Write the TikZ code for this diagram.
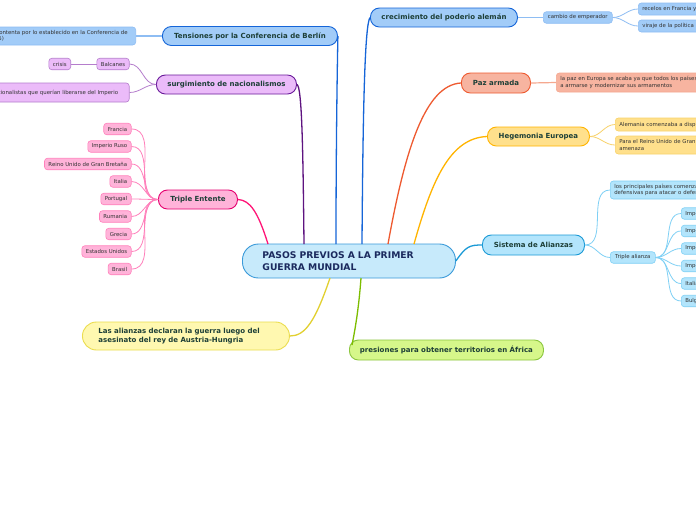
\documentclass[tikz,border=0pt]{standalone}
\usepackage{fontspec}
\setmainfont{DejaVu Sans}
\definecolor{maintext}{HTML}{1D3F37}
\definecolor{centext}{HTML}{1B2A5E}
\definecolor{subtext}{HTML}{333333}
\definecolor{cenfill}{HTML}{C7EAFB}
\definecolor{cenline}{HTML}{3A9AD9}
\definecolor{bluefill}{HTML}{A2CCF8}
\definecolor{blueline}{HTML}{1565D8}
\definecolor{bluesub}{HTML}{8EBDF3}
\definecolor{redfill}{HTML}{F7B4A0}
\definecolor{redline}{HTML}{EE5A30}
\definecolor{redsub}{HTML}{F5A88F}
\definecolor{yelfill}{HTML}{FFE08C}
\definecolor{yelline}{HTML}{FFB400}
\definecolor{yelsub}{HTML}{F8D26A}
\definecolor{cyanfill}{HTML}{B3E5FC}
\definecolor{cyanline}{HTML}{1B9AD6}
\definecolor{cyansub}{HTML}{7FD0F5}
\definecolor{limefill}{HTML}{D6F78A}
\definecolor{limeline}{HTML}{8CC63F}
\definecolor{limecon}{HTML}{7DBD00}
\definecolor{lyelfill}{HTML}{FFF8B0}
\definecolor{lyelline}{HTML}{EBDD4F}
\definecolor{lyelcon}{HTML}{E2D030}
\definecolor{pinkfill}{HTML}{FFB3D9}
\definecolor{pinkline}{HTML}{E5006F}
\definecolor{pinkcon}{HTML}{FF1577}
\definecolor{pinksub}{HTML}{FF80BB}
\definecolor{purpfill}{HTML}{EBBBF9}
\definecolor{purpline}{HTML}{6A1B9A}
\definecolor{purpcon}{HTML}{5E1380}
\definecolor{purpsub}{HTML}{B57DCC}
\begin{document}
\begin{tikzpicture}[x=1pt,y=-1pt,
  mainbox/.style={draw, rounded corners=9pt, line width=0.9pt, font=\fontsize{7}{8}\selectfont\bfseries, text=maintext, inner sep=0pt, minimum height=19pt, anchor=west},
  subbox/.style={draw, rounded corners=3pt, line width=0.6pt, font=\fontsize{5.4}{6.4}\selectfont, text=subtext, inner ysep=0pt, inner xsep=4pt, minimum height=11.5pt},
  maincon/.style={line width=1.3pt},
  subcon/.style={line width=0.8pt}]
\useasboundingbox (0,0) rectangle (696,520);
\clip (0,0) rectangle (696,520);
\fill[white] (0,0) rectangle (696,520);

% central
\node[draw=cenline, fill=cenfill, line width=0.9pt, rounded corners=16pt, anchor=west, minimum height=34pt, inner xsep=20pt, inner ysep=0pt, text width=173pt, align=left, font=\fontsize{9.2}{12}\selectfont\bfseries, text=centext] (cen) at (242,261) {PASOS PREVIOS A LA PRIMER\\GUERRA MUNDIAL};

% main nodes
\node[mainbox, draw=blueline, fill=bluefill, minimum width=175pt] (tens) at (162,36) {Tensiones por la Conferencia de Berlín};
\node[mainbox, draw=blueline, fill=bluefill, minimum width=147pt] (crec) at (370,17.5) {crecimiento del poderio alemán};
\node[mainbox, draw=redline, fill=redfill, minimum width=69pt, minimum height=20pt] (paz) at (461,83) {Paz armada};
\node[mainbox, draw=yelline, fill=yelfill, minimum width=102pt] (heg) at (487,136.5) {Hegemonia Europea};
\node[mainbox, draw=cyanline, fill=cyanfill, minimum width=102pt, minimum height=20pt] (sis) at (482,245) {Sistema de Alianzas};
\node[mainbox, draw=limeline, fill=limefill, minimum width=194pt, minimum height=20pt] (pres) at (349,350) {presiones para obtener territorios en África};
\node[mainbox, draw=lyelline, fill=lyelfill, rounded corners=14pt, minimum height=28pt, inner xsep=16pt, text width=175pt, align=left, font=\fontsize{7}{8.5}\selectfont\bfseries] (alia) at (82,336) {Las alianzas declaran la guerra luego del\\asesinato del rey de Austria-Hungria};
\node[mainbox, draw=pinkline, fill=pinkfill, minimum width=79pt] (te) at (158,199.5) {Triple Entente};
\node[mainbox, draw=purpline, fill=purpfill, minimum width=140pt] (sur) at (156,84.5) {surgimiento de nacionalismos};

% main connectors
\draw[maincon, blueline] (336,244) .. controls (336,160) and (337,80) .. (tens.east);
\draw[maincon, blueline] (362,244) .. controls (363,100) and (365,25) .. (crec.west);
\draw[maincon, redline] (388,244) .. controls (405,150) and (425,85) .. (paz.west);
\draw[maincon, yelline] (414,244) .. controls (432,180) and (450,138) .. (heg.west);
\draw[maincon, cyanline] (cen.east) .. controls (466,246) and (470,245) .. (sis.west);
\draw[maincon, pinkcon] (268,244) .. controls (258,212) and (250,200) .. (te.east);
\draw[maincon, purpcon] (304,244) .. controls (303,150) and (302,86) .. (sur.east);
\draw[maincon, lyelcon] (330,278) .. controls (315,322) and (305,336) .. (alia.east);
\draw[maincon, limecon] (361,278) .. controls (359,305) and (356,325) .. ([xshift=3pt,yshift=5pt]pres.west);

% blue children
\node[subbox, draw=bluesub, fill=bluefill, anchor=east, minimum height=18pt, inner xsep=8pt, align=left] (tensc) at (136,36) {Alemania no se contenta por lo establecido en la Conferencia de\\Berlín (1884-1885)};
\node[subbox, draw=bluesub, fill=bluefill, anchor=west, minimum width=69pt] (cam) at (543,17.5) {cambio de emperador};
\node[subbox, draw=bluesub, fill=bluefill, anchor=west, minimum height=12pt, text width=120pt, align=left] (rec) at (638,9) {recelos en Francia y Rusia};
\node[subbox, draw=bluesub, fill=bluefill, anchor=west, minimum height=12pt, text width=140pt, align=left] (vir) at (638,26) {viraje de la política exterior alemana};
\draw[subcon, bluesub, line width=1.2pt] (tens.west) -- (tensc.east);
\draw[subcon, bluesub, line width=1.2pt] (crec.east) -- (cam.west);
\draw[subcon, bluesub] (cam.east) to[out=0,in=180] (rec.west);
\draw[subcon, bluesub] (cam.east) to[out=0,in=180] (vir.west);

% red children
\node[subbox, draw=redsub, fill=redfill, anchor=west, minimum height=19pt, text width=220pt, align=left] (pazc) at (556,82.5) {la paz en Europa se acaba ya que todos los países comienzan\\a armarse y modernizar sus armamentos};
\draw[subcon, redsub, line width=1.2pt] (paz.east) -- (pazc.west);

% yellow children
\node[subbox, draw=yelsub, fill=yelfill, anchor=west, minimum height=13pt, text width=160pt, align=left] (hegc1) at (615,124.5) {Alemania comenzaba a disputar la hegemonía};
\node[subbox, draw=yelsub, fill=yelfill, anchor=west, minimum height=18pt, text width=170pt, align=left] (hegc2) at (615,145) {Para el Reino Unido de Gran Bretaña Alemania era una\\amenaza};
\draw[subcon, yelsub] (heg.east) to[out=0,in=180] (hegc1.west);
\draw[subcon, yelsub] (heg.east) to[out=0,in=180] (hegc2.west);

% cyan children
\node[subbox, draw=cyansub, fill=cyanfill, anchor=west, minimum height=18pt, text width=170pt, align=left] (sisc1) at (610,190) {los principales países comenzaron a formar alianzas\\defensivas para atacar o defenderse};
\node[subbox, draw=cyansub, fill=cyanfill, anchor=west, minimum width=45pt] (tal) at (610,257.5) {Triple alianza};
\draw[subcon, cyansub] (sis.east) to[out=0,in=180] (sisc1.west);
\draw[subcon, cyansub] (sis.east) to[out=0,in=180] (tal.west);
\foreach \n/\y/\t in {ta1/213.5/Imperio Alemán, ta2/231/Imperio Austrohúngaro, ta3/248.5/Imperio Otomano, ta4/266/Imperio Búlgaro, ta5/283.5/Italia, ta6/301/Bulgaria}{
  \node[subbox, draw=cyansub, fill=cyanfill, anchor=west, minimum height=11.5pt, text width=70pt, align=left] (\n) at (681,\y) {\t};
  \draw[subcon, cyansub] (tal.east) to[out=0,in=180] (\n.west);
}

% pink children
\foreach \n/\y/\t in {f1/129/Francia, f2/146.5/Imperio Ruso, f3/164/Reino Unido de Gran Bretaña, f4/181.5/Italia, f5/199/Portugal, f6/216.5/Rumania, f7/234/Grecia, f8/251.5/Estados Unidos, f9/269/Brasil}{
  \node[subbox, draw=pinksub, fill=pinkfill, anchor=east, minimum height=11.5pt] (\n) at (131.5,\y) {\t};
  \draw[subcon, pinksub] (te.west) to[out=180,in=0] (\n.east);
}

% purple children
\node[subbox, draw=purpsub, fill=purpfill, anchor=east] (bal) at (129.5,64) {Balcanes};
\node[subbox, draw=purpsub, fill=purpfill, anchor=east] (cri) at (71,64) {crisis};
\node[subbox, draw=purpsub, fill=purpfill, anchor=east, minimum height=19pt, inner xsep=11pt] (nac) at (129.5,92.5) {Movimientos nacionalistas que querían liberarse del Imperio};
\draw[subcon, purpsub] (sur.west) to[out=180,in=0] (bal.east);
\draw[subcon, purpsub] (sur.west) to[out=180,in=0] (nac.east);
\draw[subcon, purpsub] (bal.west) -- (cri.east);
\end{tikzpicture}
\end{document}
